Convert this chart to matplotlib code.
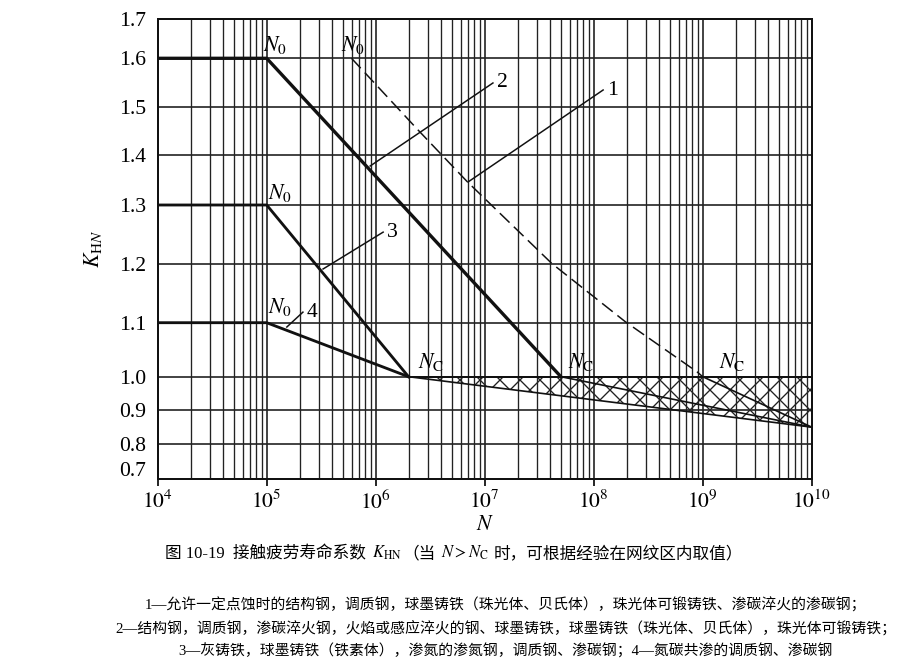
import numpy as np
import matplotlib
matplotlib.use("Agg")
import matplotlib.pyplot as plt
from matplotlib.ticker import LogLocator, NullFormatter, NullLocator
from matplotlib.transforms import ScaledTranslation

plt.rcParams['font.family'] = ['Liberation Serif', 'Noto Sans CJK SC']
plt.rcParams['mathtext.fontset'] = 'stix'
plt.rcParams['hatch.linewidth'] = 0.8

# 数据
k_ticks = [0.7, 0.8, 0.9, 1.0, 1.1, 1.2, 1.3, 1.4, 1.5, 1.6, 1.7]
n_decades = [1e4, 1e5, 1e6, 1e7, 1e8, 1e9, 1e10]

curve1_n = [6e5, 2.44e6, 6.89e6, 4.12e7, 1.94e8, 8.87e8, 1e9]
curve1_k = [1.6, 1.452, 1.347, 1.201, 1.102, 1.009, 1.0]
curve2_n = [1e4, 1e5, 5e7]
curve2_k = [1.6, 1.6, 1.0]
curve3_n = [1e4, 1e5, 2e6]
curve3_k = [1.3, 1.3, 1.0]
curve4_n = [1e4, 1e5, 2e6]
curve4_k = [1.1, 1.1, 1.0]

# N > N_C 的延伸线（终点 N=1e10, K=0.85）
nc_values = [2e6, 5e7, 1e9]
n_end = 1e10
k_end = 0.85

caption_parts = ["图 10-19  接触疲劳寿命系数", r"$K_{\mathrm{HN}}$", "（当",
                 r"$N>N_{\mathrm{C}}$", "时，可根据经验在网纹区内取值）"]
notes = [
    "1—允许一定点蚀时的结构钢，调质钢，球墨铸铁（珠光体、贝氏体），珠光体可锻铸铁、渗碳淬火的渗碳钢；",
    "2—结构钢，调质钢，渗碳淬火钢，火焰或感应淬火的钢、球墨铸铁，球墨铸铁（珠光体、贝氏体），珠光体可锻铸铁；",
    "3—灰铸铁，球墨铸铁（铁素体），渗氮的渗氮钢，调质钢、渗碳钢；4—氮碳共渗的调质钢、渗碳钢",
]

# 原图纵坐标刻度不均匀：各刻度线的像素高度
row_h = np.array([0, 34.7, 69, 102.3, 156.3, 215, 274, 324, 372.3, 420.7, 459.7])


def fwd(k):
    return np.interp(k, k_ticks, row_h)


def inv(v):
    return np.interp(v, row_h, k_ticks)


fig = plt.figure(figsize=(7.5, 671 / 120), dpi=120)
ax = fig.add_axes([157.7 / 900, 1 - 479 / 671, 654 / 900, 459.7 / 671])
ax.set_xscale('log')
ax.set_yscale('function', functions=(fwd, inv))
ax.set_xlim(1e4, 1e10)
ax.set_ylim(0.7, 1.7)

ax.set_xticks(n_decades, labels=[rf'$10^{{{int(np.log10(n))}}}$' for n in n_decades])
ax.xaxis.set_minor_locator(LogLocator(base=10, subs=np.arange(2, 10)))
ax.xaxis.set_minor_formatter(NullFormatter())
ax.set_yticks(k_ticks, labels=[f'{k:.1f}' for k in k_ticks])
ax.yaxis.set_minor_locator(NullLocator())

ax.set_axisbelow(True)
ax.grid(which='major', color='#222222', linewidth=1.0)
ax.grid(which='minor', axis='x', color='#222222', linewidth=0.8)
ax.tick_params(axis='x', which='major', direction='out', length=4, width=1,
               labelsize=13, pad=3)
ax.tick_params(axis='x', which='minor', length=0)
ax.tick_params(axis='y', length=0, labelsize=13, pad=7)
for s in ax.spines.values():
    s.set_linewidth(1.2)
    s.set_color('#111111')

# 原图 0.7 的标注略高于底边
lab07 = ax.yaxis.get_major_ticks()[0].label1
lab07.set_transform(lab07.get_transform() + ScaledTranslation(0, 10 / 120, fig.dpi_scale_trans))

# 网纹区
ax.fill_between([nc_values[0], n_end], [1.0, k_end], 1.0,
                facecolor='none', edgecolor='#222222', hatch='xx', linewidth=0)
for nc in nc_values:
    ax.plot([nc, n_end], [1.0, k_end], color='#111111', linewidth=1.0)
ax.plot([nc_values[0], n_end], [1.0, 1.0], color='#111111', linewidth=1.2)

ax.plot(curve2_n, curve2_k, color='#111111', linewidth=2.0)
ax.plot(curve3_n, curve3_k, color='#111111', linewidth=1.7)
ax.plot(curve4_n, curve4_k, color='#111111', linewidth=1.7)
ax.plot(curve1_n, curve1_k, color='#111111', linewidth=0.9, linestyle=(0, (9, 4)))

# 引线与编号
leaders = [
    ("1", (7.03e6, 1.346), (1.22e8, 1.5345)),
    ("2", (8.9e5, 1.378), (1.19e7, 1.549)),
    ("3", (3.29e5, 1.1915), (1.17e6, 1.254)),
    ("4", (1.53e5, 1.092), (2.15e5, 1.118)),
]
for lab, p0, p1 in leaders:
    ax.plot([p0[0], p1[0]], [p0[1], p1[1]], color='#111111', linewidth=0.9)
    ax.text(p1[0] * 1.08, p1[1], lab, fontsize=13, ha='left', va='center')

n0_pos = [(0.92e5, 1.605), (4.8e5, 1.605), (1.03e5, 1.303), (1.03e5, 1.108)]
for x, y in n0_pos:
    ax.text(x, y, r'$N_0$', fontsize=13, ha='left', va='bottom')
for x in [2.44e6, 5.8e7, 1.4e9]:
    ax.text(x, 1.006, r'$N_{\mathrm{C}}$', fontsize=13, ha='left', va='bottom')

ax.set_xlabel(r'$N$', fontsize=13, labelpad=1)
ax.set_ylabel(r'$K_{\mathrm{H}N}$', fontsize=13, labelpad=9)

# 图题：中文与公式分段排列
renderer = fig.canvas.get_renderer()
cap_texts = [fig.text(0, 1 - 558 / 671, p, ha='left', va='baseline', fontsize=10)
             for p in caption_parts]
gaps = [6, 1, 5, 5, 0]
widths = [t.get_window_extent(renderer).width for t in cap_texts]
total = sum(widths) + sum(gaps[:-1])
x0 = 454 - total / 2
for t, w, g in zip(cap_texts, widths, gaps):
    t.set_x(x0 / 900)
    x0 += w + g

for i, line in enumerate(notes):
    fig.text(506 / 900, 1 - (605 + 23 * i) / 671, line, ha='center', va='center',
             fontsize=8.9)

fig.savefig('out.png', dpi=120)
